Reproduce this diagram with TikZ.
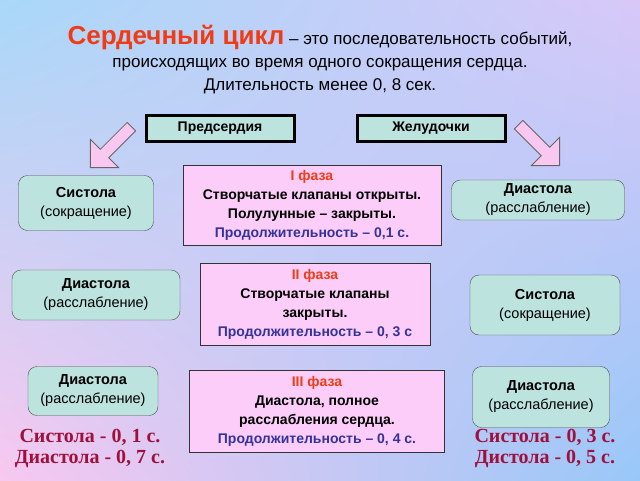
\documentclass[tikz,border=0pt]{standalone}
\usepackage{fontspec}
\setmainfont{Liberation Sans}
\newfontfamily\serifbf{Liberation Serif}
\usetikzlibrary{shapes.arrows,shadings}
\definecolor{boxteal}{HTML}{BDE3DF}
\definecolor{boxpink}{HTML}{FCCDF8}
\definecolor{phasered}{HTML}{F03C14}
\definecolor{phaseblue}{HTML}{333399}
\definecolor{darkrose}{HTML}{A0103C}
\definecolor{arrowpink}{HTML}{F8C8F0}
\definecolor{bgul}{HTML}{A8D8F8}
\definecolor{bgur}{HTML}{D8C8F8}
\definecolor{bgll}{HTML}{F8C8F0}
\definecolor{bglr}{HTML}{98C8F8}

\tikzset{
    headbox/.style={draw=black, line width=3pt, fill=boxteal, minimum width=148pt, minimum height=26pt, font=\bfseries\fontsize{14}{16}\selectfont},
    statebox/.style={draw=black!70, rounded corners=9pt, fill=boxteal, align=center, font=\fontsize{14.5}{19}\selectfont},
    phasebox/.style={draw=black!80, line width=1pt, fill=boxpink, align=center, font=\bfseries\fontsize{14}{19}\selectfont},
    bigarrow/.style={single arrow, draw=black!60, thick, fill=arrowpink, minimum height=58pt, minimum width=40pt, single arrow head extend=8pt, inner sep=3pt},
    totals/.style={text=darkrose, align=center, font=\serifbf\bfseries\fontsize{20}{21}\selectfont}
}

\begin{document}
\begin{tikzpicture}[x=1pt, y=-1pt]

    % Background
    \shade[upper left=bgul, upper right=bgur, lower left=bgll, lower right=bglr] (0,0) rectangle (640,480);
    \useasboundingbox (0,0) rectangle (640,480);

    % Title
    \node[align=center, font=\fontsize{17}{23}\selectfont] (title) at (320,60)
        {{\color{phasered}\bfseries\fontsize{26}{23}\selectfont Сердечный цикл} -- это последовательность событий,\\
         происходящих во время одного сокращения сердца.\\
         Длительность менее 0, 8 сек.};

    % Heads
    \node[headbox] (atria) at (220,128) {Предсердия};
    \node[headbox] (ventr) at (431,128) {Желудочки};

    % Arrows
    \node[bigarrow, rotate=-135] (larrow) at (113,145) {};
    \node[bigarrow, rotate=-45] (rarrow) at (537,143) {};

    % Left column
    \node[statebox, minimum width=135pt, minimum height=55pt] (sys1) at (86,203) {\textbf{Систола}\\(сокращение)};
    \node[statebox, minimum width=168pt, minimum height=50pt] (dia2) at (96,295) {\textbf{Диастола}\\(расслабление)};
    \node[statebox, minimum width=130pt, minimum height=49pt] (dia3) at (93,391) {\textbf{Диастола}\\(расслабление)};

    % Right column
    \node[statebox, minimum width=173pt, minimum height=40pt] (dia1) at (538,200) {\textbf{Диастола}\\(расслабление)};
    \node[statebox, minimum width=150pt, minimum height=60pt] (sys2) at (545,305) {\textbf{Систола}\\(сокращение)};
    \node[statebox, minimum width=137pt, minimum height=61pt] (dia4) at (541,397) {\textbf{Диастола}\\(расслабление)};

    % Phases
    \node[phasebox, minimum width=258pt, minimum height=80pt] (ph1) at (312,205)
        {{\color{phasered}I фаза}\\Створчатые клапаны открыты.\\Полулунные -- закрыты.\\{\color{phaseblue}Продолжительность -- 0,1 с.}};
    \node[phasebox, minimum width=230pt, minimum height=82pt] (ph2) at (315,304)
        {{\color{phasered}II фаза}\\Створчатые клапаны\\закрыты.\\{\color{phaseblue}Продолжительность -- 0, 3 с}};
    \node[phasebox, minimum width=255pt, minimum height=82pt] (ph3) at (317,411)
        {{\color{phasered}III фаза}\\Диастола, полное\\расслабления сердца.\\{\color{phaseblue}Продолжительность -- 0, 4 с.}};

    % Totals
    \node[totals] (tot1) at (90,448) {Систола - 0, 1 с.\\Диастола - 0, 7 с.};
    \node[totals] (tot2) at (545,448) {Систола - 0, 3 с.\\Дистола - 0, 5 с.};

\end{tikzpicture}
\end{document}
